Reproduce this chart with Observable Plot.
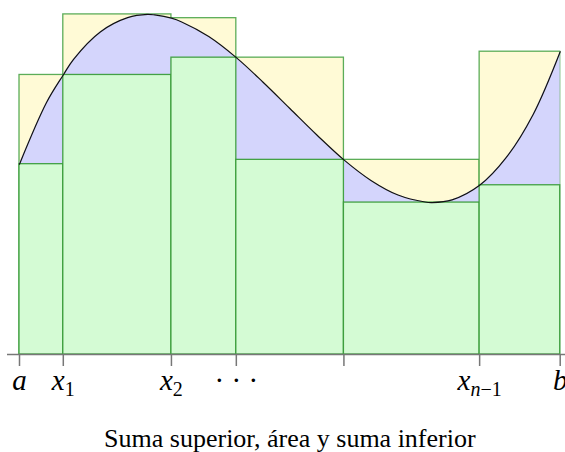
<!DOCTYPE html>
<html>
<head>
<meta charset="utf-8">
<script src="https://cdn.jsdelivr.net/npm/d3@7"></script>
<script src="https://cdn.jsdelivr.net/npm/@observablehq/plot@0.6"></script>
<style>
  html, body { margin: 0; padding: 0; background: #ffffff; }
  #chart { width: 565px; height: 452px; overflow: hidden; }
</style>
</head>
<body>
<div id="chart"></div>
<script>
// Partition points a = x0 < x1 < ... < xn = b
const partition = [0, 0.81, 2.81, 4.01, 6.0, 8.51, 10];
// Upper-sum (supremum) heights per subinterval
const upperHeights = [5.17, 6.29, 6.22, 5.49, 3.60, 5.60];
// Lower-sum (infimum) heights per subinterval
const lowerHeights = [3.52, 5.17, 5.49, 3.60, 2.81, 3.13];
// Points
const curveX = [0, 0.5, 0.81, 1, 1.5, 2, 2.37, 2.5, 2.81, 3, 3.5, 4.01, 4.5, 5, 5.5, 6, 6.5, 7, 7.5, 7.63, 8, 8.51, 9, 9.5, 10];
const curveY = [3.52, 4.66, 5.17, 5.46, 5.97, 6.23, 6.29, 6.28, 6.22, 6.15, 5.88, 5.49, 5.04, 4.55, 4.06, 3.60, 3.22, 2.95, 2.82, 2.81, 2.86, 3.13, 3.64, 4.44, 5.60];
// Tick labels (main part and subscript)
const labelMain = ["a", "x", "x", "· · ·", "", "x", "b"];
const labelSub = ["", "1", "2", "", "", "n−1", ""];
const captionText = "Suma superior, área y suma inferior";

const intervals = upperHeights.map((h, i) => ({
  x1: partition[i], x2: partition[i + 1], upper: h, lower: lowerHeights[i]
}));
const curve = curveX.map((u, i) => ({u, v: curveY[i]}));
const labelIdx = labelMain.map((d, i) => i).filter(i => labelMain[i] !== "");

const green = "#339933";
const chart = Plot.plot({
  width: 565,
  height: 452,
  marginLeft: 19,
  marginRight: 5.3,
  marginTop: 0,
  marginBottom: 98,
  x: {domain: [0, 10], axis: null},
  y: {domain: [0, 6.547], axis: null},
  style: {background: "transparent", overflow: "visible"},
  marks: [
    Plot.rect(intervals, {x1: "x1", x2: "x2", y1: 0, y2: "upper", fill: "#fffad6", stroke: green, strokeWidth: 1.3, strokeOpacity: 0.8}),
    Plot.areaY(curve, {x: "u", y: "v", curve: "catmull-rom", fill: "#d4d5fc"}),
    Plot.rect(intervals, {x1: "x1", x2: "x2", y1: 0, y2: "lower", fill: "#d4fbd4", stroke: green, strokeWidth: 1.3, strokeOpacity: 0.9}),
    Plot.line(curve, {x: "u", y: "v", curve: "catmull-rom", stroke: "#111", strokeWidth: 1.2}),
    Plot.ruleY([0], {stroke: "#777", strokeWidth: 1.5, insetLeft: -12, insetRight: -8}),
    Plot.axisX({ticks: partition, tickSize: 12, tickFormat: () => "", stroke: "#777", strokeWidth: 1.5}),
    Plot.text(labelIdx, {
      x: i => partition[i],
      text: i => labelMain[i] + "_" + labelSub[i],
      frameAnchor: "bottom",
      lineAnchor: "middle",
      dy: 26,
      fontSize: 29,
      fontFamily: "Liberation Serif",
      fontStyle: "italic",
      fill: "#000"
    }),
    Plot.text([captionText], {
      text: d => d,
      frameAnchor: "bottom",
      lineAnchor: "middle",
      dy: 84,
      fontSize: 26,
      fontFamily: "Liberation Serif",
      fill: "#000"
    })
  ]
});

// Turn "x_1" style labels into main text + subscript tspans
d3.select(chart).selectAll("text")
  .filter(function() { return this.textContent.includes("_"); })
  .each(function() {
    const el = d3.select(this);
    const [main, sub] = this.textContent.split("_");
    el.text("");
    const m = el.append("tspan").text(main);
    if (!/[a-z]/i.test(main)) m.attr("font-style", "normal");
    if (sub) {
      let first = true;
      for (const part of sub.match(/[a-z]+|[^a-z]+/gi)) {
        const t = el.append("tspan")
          .attr("font-size", 20)
          .attr("font-style", /[a-z]/i.test(part) ? "italic" : "normal")
          .text(part);
        if (first) { t.attr("dy", 6); first = false; }
      }
    }
  });

document.getElementById("chart").appendChild(chart);
</script>
</body>
</html>
